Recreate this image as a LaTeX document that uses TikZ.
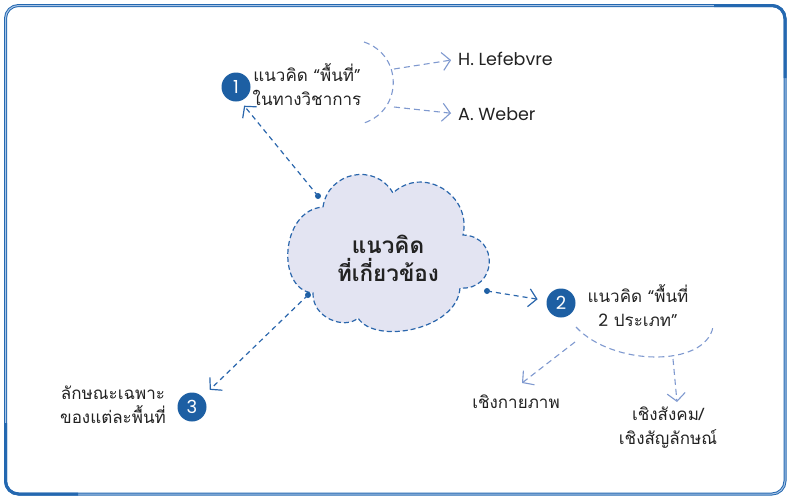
\documentclass[tikz,border=0pt]{standalone}
\usepackage{fontspec}
\setmainfont{Poppins}
\newfontfamily\latfont{Poppins}
\newfontfamily\thaifont[Script=Thai]{Loma}
\usetikzlibrary{arrows.meta}
\definecolor{frameblue}{HTML}{2468B0}
\definecolor{framelight}{HTML}{A8C4E6}
\definecolor{dotblue}{HTML}{1D5FA3}
\definecolor{lineblue}{HTML}{2A66AC}
\definecolor{paleblue}{HTML}{7F99CF}
\definecolor{cloudfill}{HTML}{E3E4F2}
\definecolor{txt}{HTML}{222222}
\tikzset{
  numcirc/.style={circle, fill=dotblue, minimum size=29pt, inner sep=0pt, text=white, font=\latfont\fontsize{18}{18}\selectfont},
  thailabel/.style={align=center, text=txt, inner sep=1pt, font=\thaifont\fontsize{17}{24}\selectfont},
  latlabel/.style={text=txt, inner sep=0pt, anchor=west, font=\latfont\fontsize{17.5}{18}\selectfont},
  conn/.style={lineblue, line width=1.2pt, dash pattern=on 5pt off 4pt, -{Straight Barb[length=8pt,width=18pt,line width=1.2pt]}},
  bracket/.style={paleblue, line width=1.1pt, dash pattern=on 6pt off 4pt},
  brarrow/.style={paleblue, line width=1.1pt, dash pattern=on 6pt off 4pt, -{Straight Barb[length=8pt,width=18pt,line width=1.1pt]}},
  cloudline/.style={lineblue, line width=1.2pt, dash pattern=on 5pt off 3pt, fill=cloudfill},
}
\begin{document}
\begin{tikzpicture}[x=1pt,y=-1pt]
\useasboundingbox (0,0) rectangle (789,498);
% frame
\draw[frameblue, line width=1pt, double=framelight, double distance=1pt, rounded corners=13pt] (5.5,5.5) rectangle (785,494);
\draw[frameblue, line width=3pt, rounded corners=13pt] (714,5.5) -- (785,5.5) -- (785,78);
\draw[frameblue, line width=3pt, rounded corners=13pt] (5.5,423) -- (5.5,494) -- (78,494);
% cloud
\draw[cloudline] (323,207) .. controls (328,172) and (375,162) .. (393,193)
  .. controls (423,165) and (472,195) .. (463,235)
  .. controls (500,236) and (497,291) .. (460,288)
  .. controls (457,330) and (375,345) .. (358,318)
  .. controls (345,330) and (312,318) .. (313,293)
  .. controls (276,290) and (280,210) .. (323,207) -- cycle;
\node[align=center, text=txt, font=\thaifont\bfseries\fontsize{22.5}{28}\selectfont] (core) at (388,258) {แนวคิด\\ที่เกี่ยวข้อง};
% numbered circles
\node[numcirc] (c1) at (236,87) {1};
\node[numcirc] (c2) at (561,303) {2};
\node[numcirc] (c3) at (192,407) {3};
% labels
\node[thailabel] (t1) at (307,85) {แนวคิด {\latfont “}พื้นที่{\latfont ”}\\ในทางวิชาการ};
\node[thailabel] (t2) at (638,306) {แนวคิด {\latfont “}พื้นที่\\{\latfont 2} ประเภท{\latfont ”}};
\node[thailabel] (t3) at (113,405) {ลักษณะเฉพาะ\\ของแต่ละพื้นที่};
\node[latlabel] (lef) at (458,59) {H. Lefebvre};
\node[latlabel] (web) at (458,114) {A. Weber};
\node[thailabel] (phys) at (516,402) {เชิงกายภาพ};
\node[thailabel] (soc) at (668,428) {เชิงสังคม/\\เชิงสัญลักษณ์};
% connector dots
\coordinate (d1) at (318,196);
\coordinate (d2) at (487,291);
\coordinate (d3) at (308,295);
\fill[dotblue] (d1) circle (3pt) (d2) circle (3pt) (d3) circle (3pt);
\draw[conn, shorten >=6pt] (d1) -- (c1.-73);
\draw[conn, shorten >=9pt] (d2) -- (c2);
\draw[conn, shorten >=10pt] (d3) -- (c3);
% upper bracket
\draw[bracket] (364,42) .. controls (403,55) and (403,110) .. (364,123);
\coordinate (b1) at (394,69);
\coordinate (b2) at (394,107);
\draw[brarrow, shorten >=7pt] (b1) -- (lef.west);
\draw[brarrow, shorten >=7pt] (b2) -- (web.west);
% lower bracket
\draw[bracket] (576,327) .. controls (612,366) and (705,368) .. (713,327);
\coordinate (b3) at (575,342);
\coordinate (b4) at (673,359);
\coordinate (p1) at (522,383);
\coordinate (p2) at (677,402);
\draw[brarrow] (b3) -- (p1);
\draw[brarrow] (b4) -- (p2);
\end{tikzpicture}
\end{document}
